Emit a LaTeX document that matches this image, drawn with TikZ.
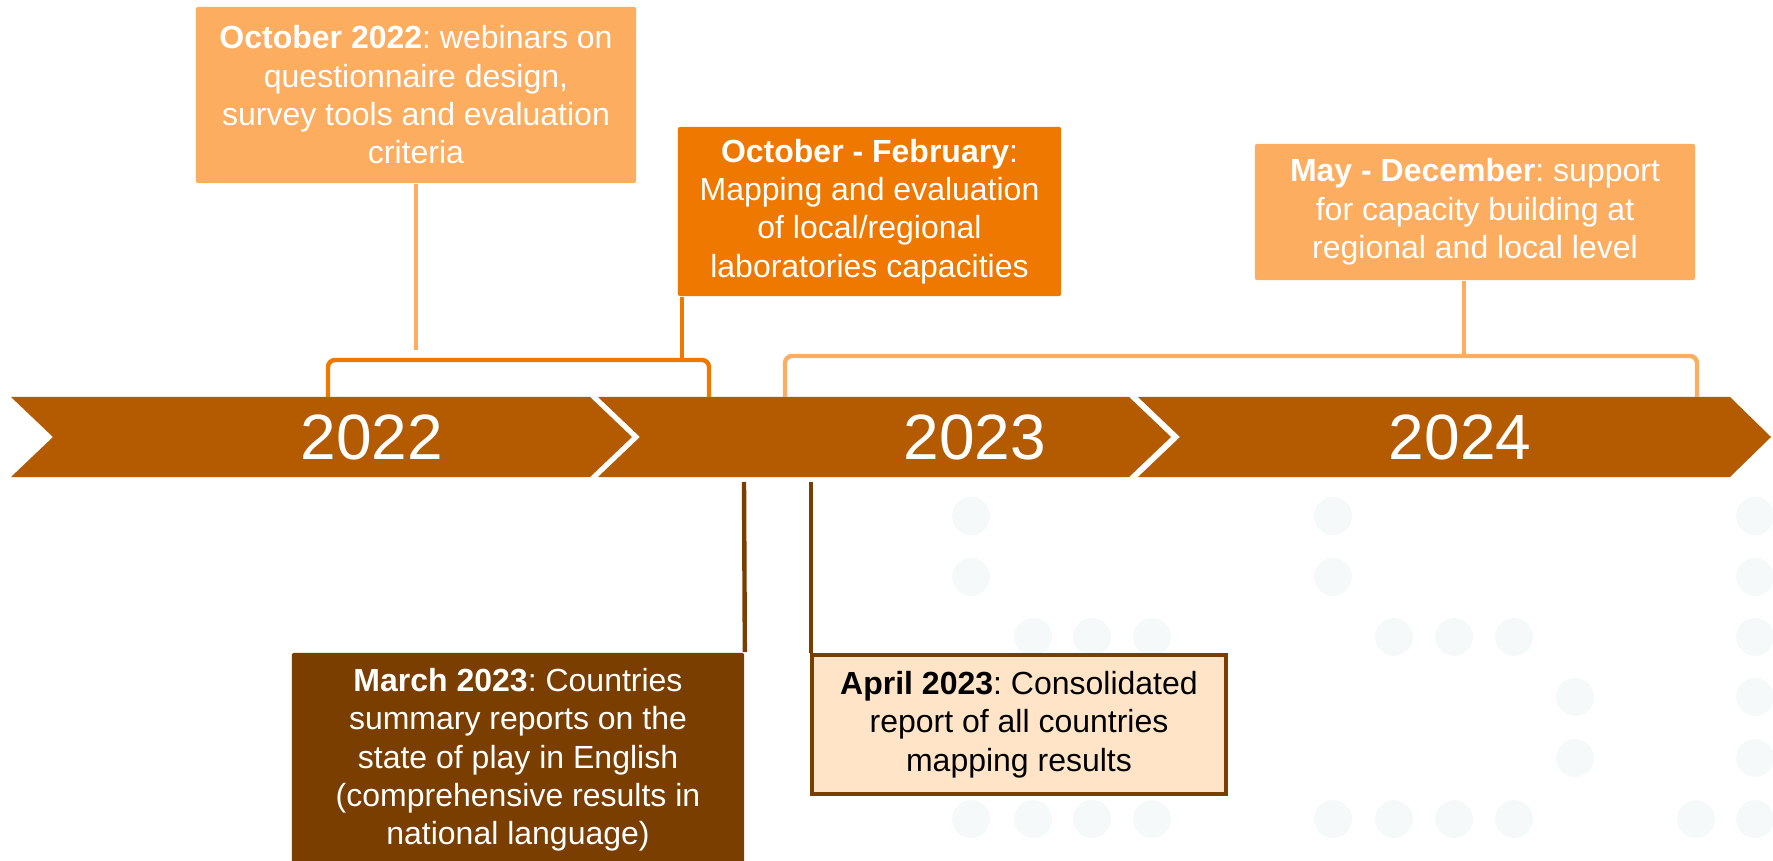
\documentclass[tikz,border=0pt]{standalone}
\usepackage{fontspec}
\setmainfont{Liberation Sans}
\frenchspacing

\definecolor{bandbrown}{RGB}{180,90,0}
\definecolor{lightorange}{RGB}{253,173,96}
\definecolor{midorange}{RGB}{238,120,0}
\definecolor{darkbrown}{RGB}{122,62,0}
\definecolor{peach}{RGB}{255,228,200}
\definecolor{dotgray}{RGB}{246,249,250}

\begin{document}
\begin{tikzpicture}[x=0.01cm, y=-0.01cm,
        every node/.style={font=\fontsize{9.1}{10.9}\selectfont, align=center, inner sep=0pt},
        eventbox/.style={rounded corners=0.6pt, text=white},
        yearlabel/.style={text=white, font=\fontsize{18.2}{20}\selectfont},
        link/.style={line width=1.25pt}]
        \useasboundingbox (0,0) rectangle (1773,861);

        % Background dots
        \fill[dotgray] (971,516) circle (0.19cm) (1333,516) circle (0.19cm) (1755,516) circle (0.19cm)
            (971,577) circle (0.19cm) (1333,577) circle (0.19cm) (1755,577) circle (0.19cm)
            (1033,637) circle (0.19cm) (1092,637) circle (0.19cm) (1152,637) circle (0.19cm)
            (1394,637) circle (0.19cm) (1454,637) circle (0.19cm) (1514,637) circle (0.19cm) (1755,637) circle (0.19cm)
            (1575,697) circle (0.19cm) (1755,697) circle (0.19cm)
            (1575,758) circle (0.19cm) (1755,758) circle (0.19cm)
            (971,819) circle (0.19cm) (1033,819) circle (0.19cm) (1092,819) circle (0.19cm) (1152,819) circle (0.19cm)
            (1333,819) circle (0.19cm) (1394,819) circle (0.19cm) (1454,819) circle (0.19cm) (1514,819) circle (0.19cm)
            (1696,819) circle (0.19cm) (1755,819) circle (0.19cm);

        % Timeline band - three chevrons
        \fill[bandbrown] (11,397) -- (590,397) -- (632,437) -- (590,477) -- (11,477) -- (53,437) -- cycle;
        \fill[bandbrown] (598,397) -- (1129,397) -- (1171,437) -- (1129,477) -- (598,477) -- (640,437) -- cycle;
        \fill[bandbrown] (1138,397) -- (1730,397) -- (1771,437) -- (1730,477) -- (1138,477) -- (1180,437) -- cycle;
        \node[yearlabel] (y22) at (372,437) {2022};
        \node[yearlabel] (y23) at (975,437) {2023};
        \node[yearlabel] (y24) at (1460,437) {2024};

        % Upper boxes
        \node[eventbox, fill=lightorange, minimum width=4.4cm, minimum height=1.76cm] (oct22) at (416,95)
            {\textbf{October 2022}: webinars on\\questionnaire design,\\survey tools and evaluation\\criteria};
        \node[eventbox, fill=midorange, minimum width=3.83cm, minimum height=1.69cm] (octfeb) at (869.5,211.5)
            {\textbf{October - February}:\\Mapping and evaluation\\of local/regional\\laboratories capacities};
        \node[eventbox, fill=lightorange, minimum width=4.4cm, minimum height=1.36cm] (maydec) at (1475,212)
            {\textbf{May - December}: support\\for capacity building at\\regional and local level};

        % Brackets over the band
        \draw[link, midorange, rounded corners=2pt] (328,397) -- (328,360) -- (709,360) -- (709,397);
        \draw[link, lightorange, rounded corners=2pt] (785,397) -- (785,356) -- (1697,356) -- (1697,397);
        \coordinate (oct22end) at (416,350);
        \coordinate (octfebfoot) at (682,360);
        \coordinate (maydecfoot) at (1464,356);
        \draw[link, lightorange] (oct22.south) -- (oct22end);
        \draw[link, midorange] (octfeb.south west -| octfebfoot) -- (octfebfoot);
        \draw[link, lightorange] (maydec.south -| maydecfoot) -- (maydecfoot);

        % Lower boxes
        \node[eventbox, fill=darkbrown, minimum width=4.52cm, minimum height=2.14cm] (mar23) at (518,760)
            {\textbf{March 2023}: Countries\\summary reports on the\\state of play in English\\(comprehensive results in\\national language)};
        \node[draw=darkbrown, line width=1.15pt, fill=peach, minimum width=4.14cm, minimum height=1.39cm] (apr23) at (1019,724.5)
            {\textbf{April 2023}: Consolidated\\report of all countries\\mapping results};
        \coordinate (mar23top) at (744,482);
        \coordinate (apr23top) at (811,482);
        \draw[link, darkbrown] (mar23top) -- (mar23.north east);
        \draw[link, darkbrown] (apr23top) -- (apr23top |- apr23.north);
    \end{tikzpicture}
\end{document}
